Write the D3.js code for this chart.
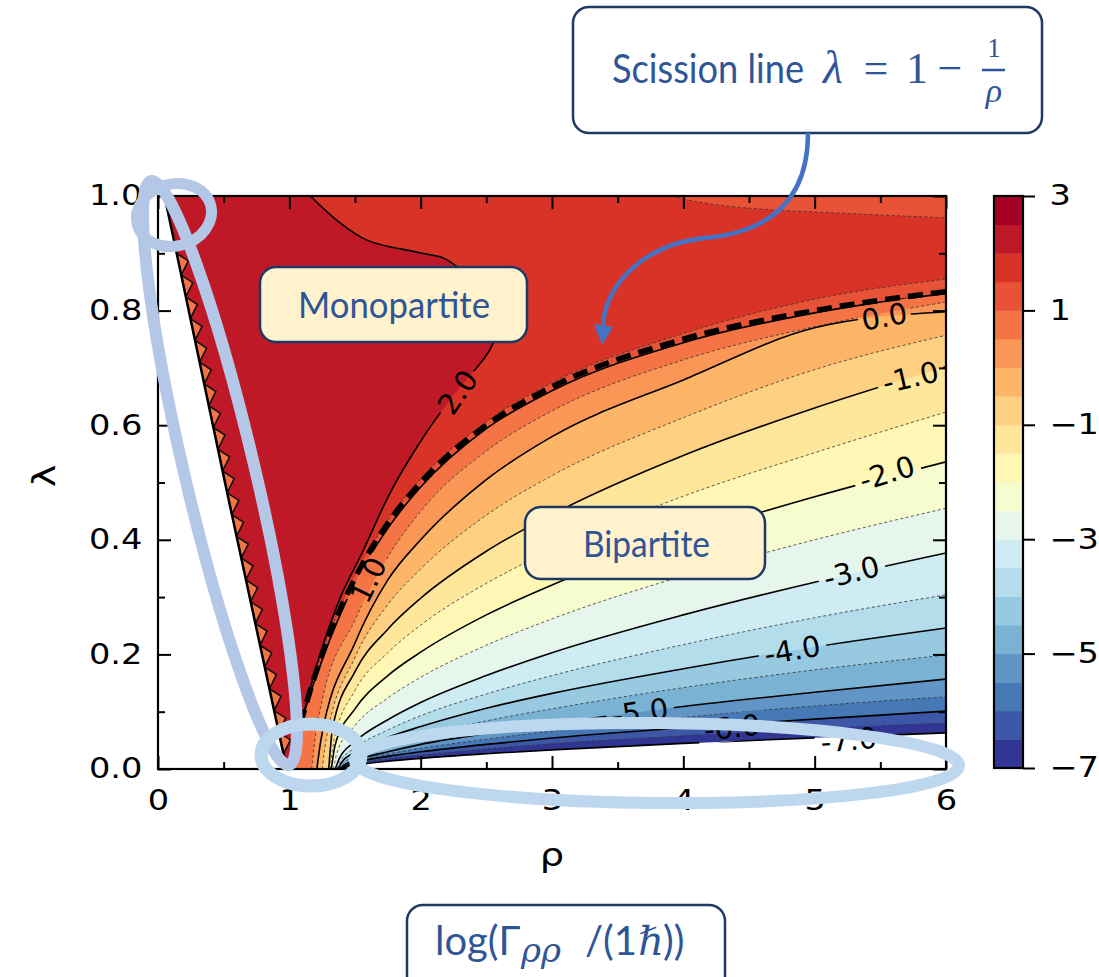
<!DOCTYPE html>
<html>
<head>
<meta charset="utf-8">
<script src="https://cdn.jsdelivr.net/npm/d3@7"></script>
<style>
  body { margin: 0; background: #fff; }
  svg { display: block; }
</style>
</head>
<body>
<svg id="chart" width="1099" height="977"></svg>
<script>
// ---- data ----
var xTicks = [0, 1, 2, 3, 4, 5, 6];
var xMinor = [0.5, 1.5, 2.5, 3.5, 4.5, 5.5];
var yTicks = [0, 0.2, 0.4, 0.6, 0.8, 1.0];
var yMinor = [0.1, 0.3, 0.5, 0.7, 0.9];
var cbTicks = [3, 1, -1, -3, -5, -7];
var bandLevels = [-7, -6.5, -6, -5.5, -5, -4.5, -4, -3.5, -3, -2.5, -2, -1.5, -1, -0.5, 0, 0.5, 1, 1.5, 2, 2.5];

// contour levels of the bipartite fan, highest first
var bipLevels = [1.5, 1.0, 0.5, 0.0, -0.5, -1.0, -1.5, -2.0, -2.5, -3.0, -3.5, -4.0, -4.5, -5.0, -5.5, -6.0, -6.5, -7.0];
// foot of each line near lambda = 0, as [rho, lambda]
var bipFoot = [
  [[1.0, 0], [1.05, 0.05], [1.1, 0.093], [1.25, 0.203]],
  [[1.03, 0], [1.06, 0.045], [1.1, 0.085], [1.25, 0.19]],
  [[1.17, 0], [1.2, 0.06], [1.25, 0.12]],
  [[1.21, 0], [1.24, 0.05]],
  [[1.25, 0], [1.28, 0.05]],
  [[1.3, 0], [1.33, 0.072]],
  [[1.31, 0], [1.34, 0.05]],
  [[1.32, 0], [1.35, 0.043]],
  [[1.335, 0], [1.365, 0.03]],
  [[1.35, 0], [1.38, 0.018]],
  [[1.36, 0], [1.39, 0.014]],
  [[1.37, 0], [1.4, 0.012]],
  [[1.375, 0], [1.405, 0.009]],
  [[1.38, 0], [1.41, 0.006]],
  [[1.385, 0], [1.415, 0.005]],
  [[1.39, 0], [1.42, 0.0046]],
  [[1.395, 0], [1.425, 0.0036]],
  [[1.4, 0], [1.43, 0.003]]
];
var rhoGrid = [1.5, 1.75, 2, 2.5, 3, 4, 5, 6];
var bipLam = [
  [0.337, 0.434, 0.506, 0.606, 0.674, 0.76, 0.82, 0.855],
  [0.325, 0.42, 0.492, 0.594, 0.66, 0.744, 0.796, 0.83],
  [0.26, 0.37, 0.45, 0.555, 0.625, 0.714, 0.772, 0.815],
  [0.22, 0.33, 0.40, 0.505, 0.58, 0.679, 0.77, 0.798],
  [0.195, 0.287, 0.349, 0.443, 0.512, 0.613, 0.697, 0.757],
  [0.170, 0.244, 0.298, 0.380, 0.444, 0.547, 0.630, 0.702],
  [0.137, 0.203, 0.251, 0.324, 0.382, 0.476, 0.552, 0.623],
  [0.105, 0.163, 0.204, 0.269, 0.321, 0.406, 0.475, 0.536],
  [0.076, 0.124, 0.160, 0.216, 0.262, 0.337, 0.400, 0.455],
  [0.048, 0.086, 0.116, 0.163, 0.203, 0.269, 0.326, 0.377],
  [0.037, 0.068, 0.093, 0.131, 0.163, 0.217, 0.264, 0.304],
  [0.029, 0.055, 0.074, 0.106, 0.132, 0.175, 0.213, 0.246],
  [0.022, 0.042, 0.058, 0.084, 0.105, 0.142, 0.173, 0.199],
  [0.015, 0.030, 0.043, 0.062, 0.079, 0.109, 0.134, 0.157],
  [0.013, 0.026, 0.036, 0.052, 0.066, 0.090, 0.110, 0.126],
  [0.011, 0.022, 0.030, 0.043, 0.054, 0.072, 0.087, 0.101],
  [0.009, 0.018, 0.024, 0.035, 0.044, 0.058, 0.071, 0.080],
  [0.0063, 0.0134, 0.0186, 0.0267, 0.0334, 0.0447, 0.0544, 0.063]
];
// the 2.0 contour bounding the monopartite region (top edge -> bottom)
var level2 = [[1.16, 1.0], [1.36, 0.958], [1.59, 0.923], [1.97, 0.902], [2.17, 0.892], [2.28, 0.876],
  [2.45, 0.84], [2.57, 0.79], [2.55, 0.743], [2.475, 0.714], [2.28, 0.661], [2.094, 0.604],
  [1.942, 0.551], [1.82, 0.504], [1.714, 0.457], [1.56, 0.38], [1.39, 0.3], [1.22, 0.19], [1.09, 0.08], [1.0, 0]];
// the 1.5 contour cutting the top right corner
var topLevel = [[3.92, 1.0], [4.1, 0.99], [4.49, 0.979], [5.2, 0.97], [6, 0.962]];
// scission line lambda = 1 - 1/rho
var scission = [[1, 0], [1.05, 0.048], [1.1, 0.091], [1.25, 0.2], [1.5, 0.333], [1.75, 0.429], [2, 0.5],
  [2.5, 0.6], [3, 0.667], [4, 0.75], [5, 0.8], [6, 0.833]];
// left edge of the defined region
var leftEdge = [[0.05, 1], [0.51, 0.5], [0.98, 0]];
// lambda values where the ragged teeth sit along the left edge
var teethLam = [0.9, 0.862, 0.824, 0.786, 0.748, 0.71, 0.672, 0.634, 0.596, 0.558, 0.52, 0.482,
  0.444, 0.406, 0.368, 0.33, 0.292, 0.254, 0.216, 0.178, 0.14, 0.102, 0.064];

var labelText = ["0.0", "-1.0", "-2.0", "-3.0", "-4.0", "-5.0", "-6.0", "-7.0", "2.0", "1.0"];
var labelSpot = [[5.53, 0.79, -10], [5.73, 0.684, -13], [5.55, 0.517, -17], [5.28, 0.344, -14],
  [4.83, 0.208, -10], [3.67, 0.1, -8], [4.37, 0.073, -6], [5.26, 0.051, -5], [2.28, 0.658, -55], [1.6, 0.33, -64]];

// ---- setup ----
var svg = d3.select("#chart");
var x = d3.scaleLinear().domain([0, 6]).range([158, 946]);
var y = d3.scaleLinear().domain([0, 1]).range([769, 196]);
var cbY = d3.scaleLinear().domain([-7, 3]).range([768, 196]);
var edgeRho = d3.scaleLinear().domain(leftEdge.map(function(d) { return d[1]; }))
  .range(leftEdge.map(function(d) { return d[0]; }));

// RdYlBu with straight segments between the ColorBrewer anchors, reversed
var rdylbu = d3.scaleLinear().domain(d3.range(11).map(function(i) { return i / 10; }))
  .range(["#a50026", "#d73027", "#f46d43", "#fdae61", "#fee090", "#ffffbf", "#e0f3f8", "#abd9e9", "#74add1", "#4575b4", "#313695"]);
var bandColor = function(k) { return rdylbu(1 - k / 19); };
var bandOf = function(L) { return Math.round((L + 7) / 0.5); };
var isInt = function(v) { return Math.abs(v - Math.round(v)) < 1e-9; };
var pt = function(d) { return x(d[0]) + "," + y(d[1]); };

var lineMono = d3.line().x(function(d) { return x(d[0]); }).y(function(d) { return y(d[1]); }).curve(d3.curveMonotoneX);
var lineCR = d3.line().x(function(d) { return x(d[0]); }).y(function(d) { return y(d[1]); }).curve(d3.curveCatmullRom.alpha(0.5));
var lineLin = d3.line().x(function(d) { return x(d[0]); }).y(function(d) { return y(d[1]); });

function bipPoints(i) {
  return bipFoot[i].concat(rhoGrid.map(function(r, j) { return [r, bipLam[i][j]]; }));
}

var defs = svg.append("defs");
defs.append("clipPath").attr("id", "valid").append("path")
  .attr("d", lineLin([leftEdge[0], [6, 1], [6, 0], leftEdge[2], leftEdge[1]]) + "Z");
defs.append("clipPath").attr("id", "plotArea").append("rect")
  .attr("x", x(0)).attr("y", y(1)).attr("width", x(6) - x(0)).attr("height", y(0) - y(1));

var mask = defs.append("mask").attr("id", "lblMask").attr("maskUnits", "userSpaceOnUse")
  .attr("x", 0).attr("y", 0).attr("width", 1099).attr("height", 977);
mask.append("rect").attr("width", 1099).attr("height", 977).attr("fill", "#fff");
labelSpot.forEach(function(s, i) {
  var w = labelText[i].length * 15 + 8;
  mask.append("rect").attr("x", -w / 2).attr("y", -14).attr("width", w).attr("height", 28)
    .attr("fill", "#000")
    .attr("transform", "translate(" + x(s[0]) + "," + y(s[1]) + ") rotate(" + s[2] + ")");
});

// ---- filled contours ----
var fills = svg.append("g").attr("clip-path", "url(#valid)");
for (var i = bipLevels.length - 1; i >= 0; i--) {
  fills.append("path")
    .attr("d", lineMono(bipPoints(i)) + "L" + pt([6, 1]) + "L" + pt([0, 1]) + "L" + pt([0, 0]) + "Z")
    .attr("fill", bandColor(bandOf(bipLevels[i])));
}
fills.append("path")
  .attr("d", lineCR(topLevel) + "L" + pt([6, 1]) + "Z")
  .attr("fill", bandColor(bandOf(1.0)));
fills.append("path")
  .attr("d", "M" + pt([0, 1]) + "L" + lineCR(level2).slice(1) + "L" + pt([0, 0]) + "Z")
  .attr("fill", bandColor(bandOf(2.0)));

// ragged teeth along the left edge
fills.append("g").selectAll("path").data(teethLam).enter().append("path")
  .attr("d", function(l) {
    var step = 0.038, a = [x(edgeRho(l)), y(l)], b = [x(edgeRho(l - step)), y(l - step)];
    var c = [x(edgeRho(l - step * 0.35)) + 10, y(l - step * 0.35)];
    return "M" + a + "L" + c + "L" + b + "Z";
  })
  .attr("fill", bandColor(bandOf(0.5))).attr("stroke", "#111").attr("stroke-width", 1.6);

// ---- contour lines ----
var lines = svg.append("g").attr("clip-path", "url(#plotArea)").append("g").attr("mask", "url(#lblMask)");
bipLevels.forEach(function(L, i) {
  lines.append("path").attr("d", lineMono(bipPoints(i)))
    .attr("fill", "none")
    .attr("stroke", isInt(L) ? "#000" : "#333")
    .attr("stroke-width", isInt(L) ? 1.6 : 0.8)
    .attr("stroke-dasharray", isInt(L) ? null : "3,2.5");
});
lines.append("path").attr("d", lineCR(level2)).attr("fill", "none").attr("stroke", "#000").attr("stroke-width", 1.6);
lines.append("path").attr("d", lineCR(topLevel)).attr("fill", "none").attr("stroke", "#333")
  .attr("stroke-width", 0.8).attr("stroke-dasharray", "3,2.5");

svg.append("g").attr("clip-path", "url(#plotArea)").append("path")
  .attr("d", lineMono(scission)).attr("fill", "none").attr("stroke", "#000")
  .attr("stroke-width", 5.5).attr("stroke-dasharray", "15,8");
svg.append("path").attr("d", lineLin(leftEdge)).attr("fill", "none").attr("stroke", "#000").attr("stroke-width", 2.5);

svg.append("g").selectAll("text").data(labelSpot).enter().append("text")
  .attr("transform", function(s) { return "translate(" + x(s[0]) + "," + y(s[1]) + ") rotate(" + s[2] + ")"; })
  .attr("text-anchor", "middle").attr("dy", "0.36em")
  .style("font-family", "DejaVu Sans").style("font-size", "29px").attr("fill", "#000")
  .text(function(s, i) { return labelText[i]; });

// ---- axes ----
function styleAxis(g, labels) {
  g.select(".domain").remove();
  g.selectAll("line").attr("stroke", "#000").attr("stroke-width", 2);
  g.selectAll("text").style("font-family", "DejaVu Sans").style("font-size", "28px").attr("fill", "#000")
    .attr("transform", labels ? "scale(1.2,1)" : null);
}
svg.append("g").attr("transform", "translate(0," + y(0) + ")")
  .call(d3.axisBottom(x).tickValues(xTicks).tickSize(-13).tickPadding(21).tickFormat(d3.format("d")))
  .call(styleAxis, true);
svg.append("g").attr("transform", "translate(0," + y(0) + ")")
  .call(d3.axisBottom(x).tickValues(xMinor).tickSize(-7).tickFormat("")).call(styleAxis, false);
svg.append("g").attr("transform", "translate(0," + y(1) + ")")
  .call(d3.axisTop(x).tickValues(xTicks).tickSize(-13).tickFormat("")).call(styleAxis, false);
svg.append("g").attr("transform", "translate(0," + y(1) + ")")
  .call(d3.axisTop(x).tickValues(xMinor).tickSize(-7).tickFormat("")).call(styleAxis, false);
svg.append("g").attr("transform", "translate(" + x(0) + ",0)")
  .call(d3.axisLeft(y).tickValues(yTicks).tickSize(-13).tickPadding(13).tickFormat(d3.format(".1f")))
  .call(styleAxis, true);
svg.append("g").attr("transform", "translate(" + x(0) + ",0)")
  .call(d3.axisLeft(y).tickValues(yMinor).tickSize(-7).tickFormat("")).call(styleAxis, false);
svg.append("g").attr("transform", "translate(" + x(6) + ",0)")
  .call(d3.axisRight(y).tickValues(yTicks).tickSize(-13).tickFormat("")).call(styleAxis, false);
svg.append("g").attr("transform", "translate(" + x(6) + ",0)")
  .call(d3.axisRight(y).tickValues(yMinor).tickSize(-7).tickFormat("")).call(styleAxis, false);
svg.append("rect").attr("x", x(0)).attr("y", y(1)).attr("width", x(6) - x(0)).attr("height", y(0) - y(1))
  .attr("fill", "none").attr("stroke", "#000").attr("stroke-width", 2.2);

svg.append("text").attr("transform", "translate(44,476) rotate(-90) scale(1.2,1)")
  .attr("text-anchor", "middle").attr("dy", "0.35em")
  .style("font-family", "DejaVu Sans").style("font-size", "32px").text("λ");
svg.append("text").attr("transform", "translate(" + x(3) + ",866) scale(1.2,1)")
  .attr("text-anchor", "middle")
  .style("font-family", "DejaVu Sans").style("font-size", "32px").text("ρ");

// ---- colorbar ----
var cbX = 994, cbW = 29;
svg.append("g").selectAll("rect").data(bandLevels).enter().append("rect")
  .attr("x", cbX).attr("width", cbW)
  .attr("y", function(L) { return cbY(L + 0.5); })
  .attr("height", function(L) { return cbY(L) - cbY(L + 0.5) + 0.5; })
  .attr("fill", function(L) { return bandColor(bandOf(L)); });
svg.append("rect").attr("x", cbX).attr("y", cbY(3)).attr("width", cbW).attr("height", cbY(-7) - cbY(3))
  .attr("fill", "none").attr("stroke", "#000").attr("stroke-width", 2.2);
svg.append("g").attr("transform", "translate(" + (cbX + cbW) + ",0)")
  .call(d3.axisRight(cbY).tickValues(cbTicks).tickSize(12).tickPadding(10))
  .call(styleAxis, true);

// ---- annotations ----
var ink = "#2f5597", edge = "#1f3864";
function box(x0, y0, w, h, fill) {
  svg.append("rect").attr("x", x0).attr("y", y0).attr("width", w).attr("height", h)
    .attr("rx", 16).attr("fill", fill).attr("stroke", edge).attr("stroke-width", 2.5);
}
box(260, 267, 267, 75, "#fff2cc");
box(525, 507, 240, 72, "#fff2cc");
box(573, 7, 469, 126, "#fff");
box(407, 905, 318, 100, "#fff");

var sans = "Lato, 'Open Sans', sans-serif";
svg.append("text").attr("x", 298).attr("y", 318).attr("textLength", 192).attr("lengthAdjust", "spacingAndGlyphs")
  .style("font-family", sans).style("font-size", "37px").attr("fill", ink).text("Monopartite");
svg.append("text").attr("x", 583).attr("y", 557).attr("textLength", 127).attr("lengthAdjust", "spacingAndGlyphs")
  .style("font-family", sans).style("font-size", "37px").attr("fill", ink).text("Bipartite");

svg.append("text").attr("x", 612).attr("y", 83).attr("textLength", 192).attr("lengthAdjust", "spacingAndGlyphs")
  .style("font-family", sans).style("font-size", "40px").attr("fill", ink).text("Scission line");
var serif = "'Liberation Serif', 'DejaVu Serif', serif";
function mtext(tx, ty, s, size, italic, anchor) {
  return svg.append("text").attr("x", tx).attr("y", ty).attr("text-anchor", anchor || "start")
    .style("font-family", serif).style("font-size", size + "px").style("font-style", italic ? "italic" : "normal")
    .attr("fill", ink).text(s);
}
mtext(833, 83, "λ", 46, true, "middle");
mtext(876, 83, "=", 44, false, "middle");
mtext(917, 83, "1", 44, false, "middle");
mtext(950, 83, "−", 44, false, "middle");
mtext(994, 57, "1", 27, false, "middle");
svg.append("line").attr("x1", 982).attr("x2", 1005).attr("y1", 70).attr("y2", 70).attr("stroke", ink).attr("stroke-width", 2.5);
mtext(994, 102, "ρ", 34, true, "middle");

svg.append("text").attr("x", 435).attr("y", 955).style("font-family", sans).style("font-size", "40px").attr("fill", ink).text("log(Γ");
mtext(521, 962, "ρρ", 34, true).style("font-family", "'DejaVu Serif', serif");
svg.append("text").attr("x", 585).attr("y", 955).style("font-family", sans).style("font-size", "40px").attr("fill", ink).text("/(1");
mtext(638, 955, "ℏ", 40, true);
svg.append("text").attr("x", 663).attr("y", 955).style("font-family", sans).style("font-size", "40px").attr("fill", ink).text("))");

// highlight rings
function ring(cx, cy, rx, ry, rot, col, w) {
  svg.append("ellipse").attr("cx", cx).attr("cy", cy).attr("rx", rx).attr("ry", ry)
    .attr("transform", "rotate(" + rot + "," + cx + "," + cy + ")")
    .attr("fill", "none").attr("stroke", col).attr("stroke-width", w);
}
ring(220, 473, 300, 35, 76.7, "#b4c7e7", 12);
ring(174, 215, 38, 31, -15, "#b4c7e7", 11);
ring(657, 763, 302, 40, 0.5, "#bdd7ee", 12);
ring(311, 755, 50, 31, 0, "#bdd7ee", 13);

// arrow from the callout to the scission line
svg.append("path").attr("d", "M808,133 C808,200 770,232 705,238 C645,244 603,285 603,328")
  .attr("fill", "none").attr("stroke", "#4472c4").attr("stroke-width", 4.5);
svg.append("path").attr("d", "M594,324 L613,327 L602,345 Z").attr("fill", "#4472c4");
</script>
</body>
</html>
